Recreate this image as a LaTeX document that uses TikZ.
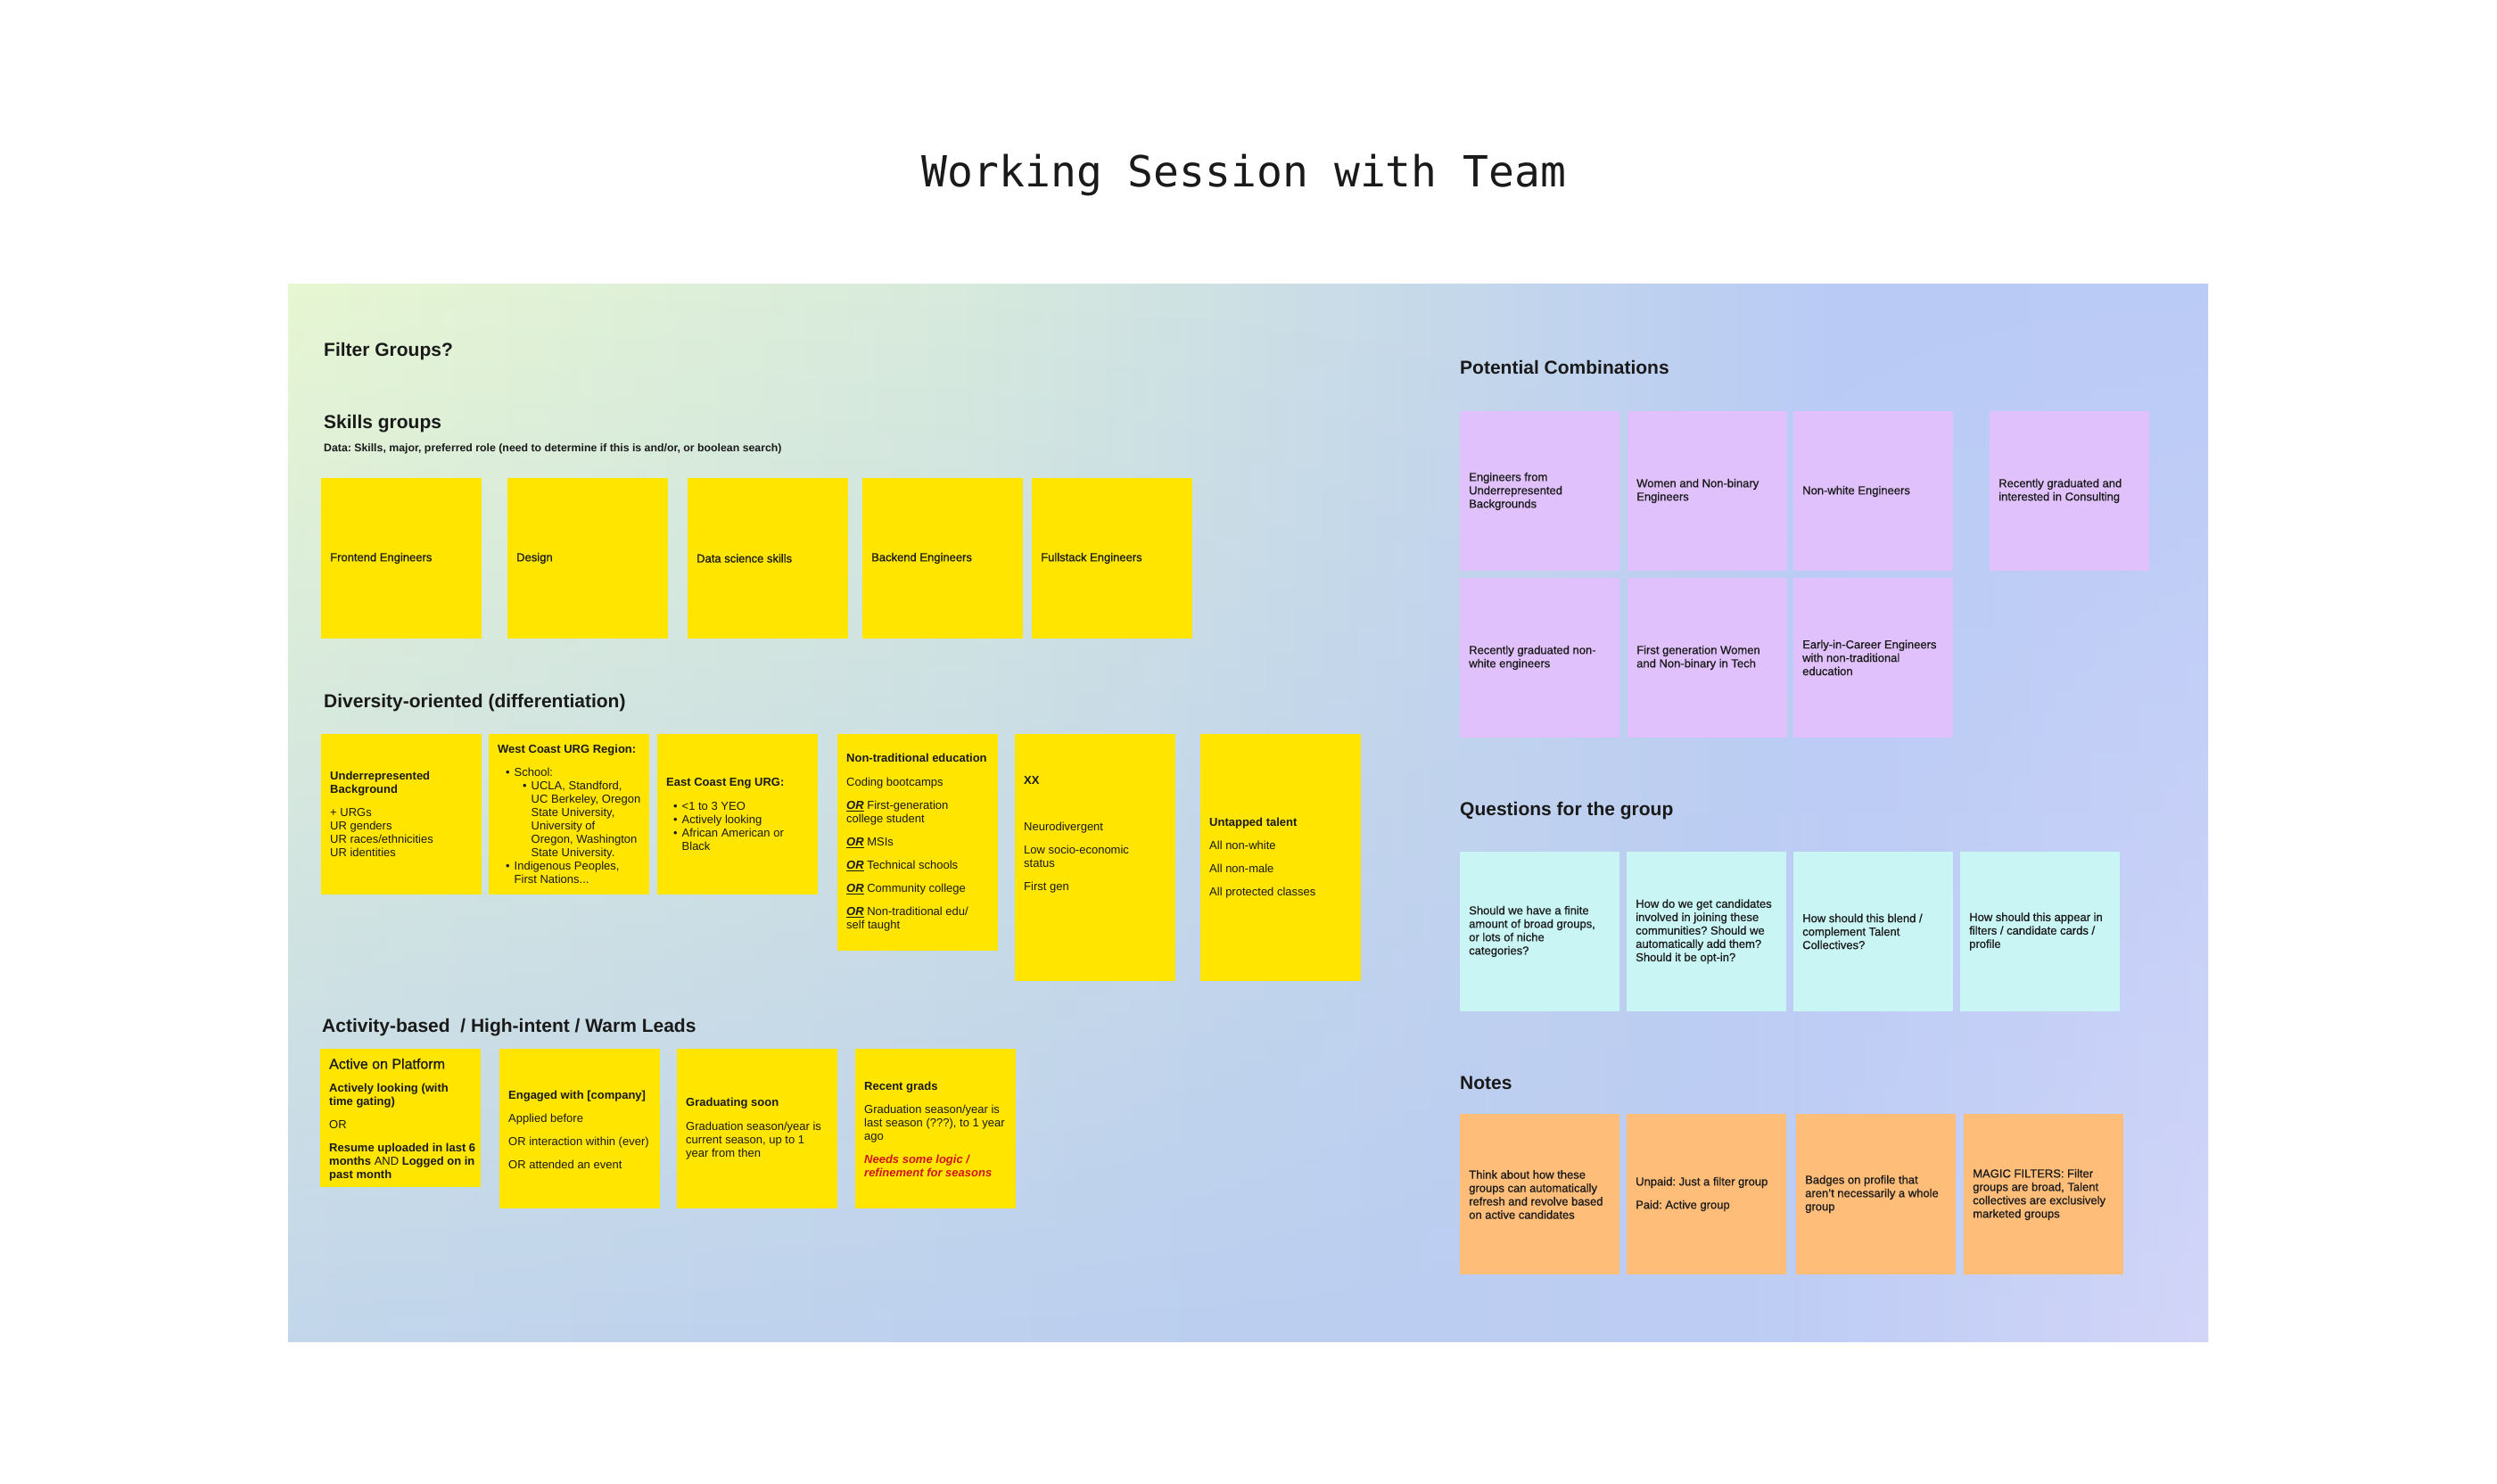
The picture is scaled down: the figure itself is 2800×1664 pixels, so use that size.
\documentclass[tikz,border=0pt]{standalone}
\usepackage{fontspec}
\setmainfont{Liberation Sans}
\newfontfamily\medfont{Liberation Sans}[FakeBold=0.7]
\newfontfamily\titlefont{DejaVu Sans Mono}
\usetikzlibrary{fadings}
\frenchspacing
\definecolor{ink}{HTML}{1A1A1A}
\definecolor{stYel}{HTML}{FFE500}
\definecolor{stPur}{HTML}{E0C1FC}
\definecolor{stCya}{HTML}{C9F5F4}
\definecolor{stOra}{HTML}{FFBD7A}
\definecolor{needred}{HTML}{D0161B}
\definecolor{bgA}{HTML}{E8F8D2}
\definecolor{bgB}{HTML}{D8EBDC}
\definecolor{bgC}{HTML}{C6D9EA}
\definecolor{bgD}{HTML}{B9CBF5}
\definecolor{bgE}{HTML}{BACBF6}
\definecolor{bA}{HTML}{C2D6EC}
\definecolor{bB}{HTML}{BBCEF0}
\definecolor{bC}{HTML}{BCCCF4}
\definecolor{bD}{HTML}{D3D6F9}
\pgfdeclarehorizontalshading{bgtop}{100bp}{color(0bp)=(bgA); color(25bp)=(bgA); color(42.5bp)=(bgB); color(55bp)=(bgC); color(65bp)=(bgD); color(75bp)=(bgE); color(100bp)=(bgE)}
\pgfdeclarehorizontalshading{bgbot}{100bp}{color(0bp)=(bA); color(25bp)=(bA); color(50bp)=(bB); color(62.5bp)=(bC); color(75bp)=(bD); color(100bp)=(bD)}
\tikzfading[name=fadeup, top color=transparent!100, bottom color=transparent!0]
\tikzset{
  note/.style={anchor=north west, inner sep=0pt, minimum width=180pt, draw=none},
  medtxt/.style={font=\medfont\fontsize{13}{15}\selectfont},
  yel/.style={note, fill=stYel},
  yelT/.style={},
  yelm/.style={note, fill=stYel},
  yelmT/.style={medtxt},
  pur/.style={note, fill=stPur, minimum width=179pt},
  purT/.style={medtxt},
  cya/.style={note, fill=stCya, minimum width=179pt},
  cyaT/.style={medtxt},
  ora/.style={note, fill=stOra, minimum width=179pt},
  oraT/.style={medtxt},
  stxt/.style={anchor=west, align=left, inner sep=0pt, text=ink, font=\fontsize{13}{15}\selectfont},
  hd/.style={anchor=base west, inner sep=0pt, text=ink, font=\fontsize{21}{25}\selectfont\bfseries},
}
\newcommand\sticky[7]{%
  \node[#2, minimum height=#5pt] (#1) at (#3,#4) {};
  \node[stxt, #2T] (#1t) at (#3+10,#6) {#7};}
\newcommand\bi[1]{\hspace*{#1}\makebox[9.5pt][l]{•}}
\newcommand\orU{\underline{\textbf{\textit{OR}}}}
\begin{document}
\begin{tikzpicture}[x=1pt,y=-1pt]
\useasboundingbox (0,0) rectangle (2800,1664);
\fill[white] (0,0) rectangle (2800,1664);
% background panel
\begin{scope}
\clip (323,318) rectangle (2476,1504);
\shade[shading=bgtop] (303,298) rectangle (2496,1524);
\shade[shading=bgbot, path fading=fadeup] (303,298) rectangle (2496,1524);
\end{scope}
% title
\node[anchor=base, inner sep=0pt, text=ink, font=\titlefont\fontsize{48}{56}\selectfont] (title) at (1395,210) {Working Session with Team};
% headings
\node[hd] (hfilter) at (363,399) {Filter Groups?};
\node[hd] (hskills) at (363,480) {Skills groups};
\node[anchor=base west, inner sep=0pt, text=ink, font=\fontsize{12.3}{14}\selectfont\bfseries] (hdata) at (363,506) {Data: Skills, major, preferred role (need to determine if this is and/or, or boolean search)};
\node[hd] (hdiv) at (363,793) {Diversity-oriented (differentiation)};
\node[hd] (hact) at (361,1157) {Activity-based~ / High-intent / Warm Leads};
\node[hd] (hpot) at (1637,419) {Potential Combinations};
\node[hd] (hque) at (1637,914) {Questions for the group};
\node[hd] (hnot) at (1637,1221) {Notes};
% skills
\sticky{s1}{yelm}{360}{536}{180}{626}{Frontend Engineers}
\sticky{s2}{yelm}{569}{536}{180}{626}{Design}
\sticky{s3}{yelm}{771}{536}{180}{626}{Data science skills}
\sticky{s4}{yelm}{967}{536}{180}{626}{Backend Engineers}
\sticky{s5}{yelm}{1157}{536}{180}{626}{Fullstack Engineers}
% diversity
\sticky{d1}{yel}{360}{823}{180}{913}{\textbf{Underrepresented}\\\textbf{Background}\\[11pt]+ URGs\\UR genders\\UR races/ethnicities\\UR identities}
\sticky{d2}{yel}{548}{823}{180}{913}{\textbf{West Coast URG Region:}\\[11pt]\bi{9pt}School:\\\bi{28pt}UCLA, Standford,\\\hspace*{37.5pt}UC Berkeley, Oregon\\\hspace*{37.5pt}State University,\\\hspace*{37.5pt}University of\\\hspace*{37.5pt}Oregon, Washington\\\hspace*{37.5pt}State University.\\\bi{9pt}Indigenous Peoples,\\\hspace*{18.5pt}First Nations...}
\sticky{d3}{yel}{737}{823}{180}{913}{\textbf{East Coast Eng URG:}\\[12pt]\bi{8pt}<1 to 3 YEO\\\bi{8pt}Actively looking\\\bi{8pt}African American or\\\hspace*{17.5pt}Black}
\sticky{d4}{yel}{939}{823}{243}{944.5}{\textbf{Non-traditional education}\\[12pt]Coding bootcamps\\[11pt]\orU\ First-generation\\college student\\[11pt]\orU\ MSIs\\[11pt]\orU\ Technical schools\\[11pt]\orU\ Community college\\[11pt]\orU\ Non-traditional edu/\\self taught}
\sticky{d5}{yel}{1138}{823}{277}{936}{\textbf{XX}\\[37pt]Neurodivergent\\[11pt]Low socio-economic\\status\\[11pt]First gen}
\sticky{d6}{yel}{1346}{823}{277}{962}{\textbf{Untapped talent}\\[11pt]All non-white\\[11pt]All non-male\\[11pt]All protected classes}
% activity
\sticky{a1}{yel}{359}{1176}{155}{1255.5}{{\medfont\fontsize{16}{18}\selectfont Active on Platform}\\[11pt]\textbf{Actively looking (with}\\\textbf{time gating)}\\[11pt]OR\\[11pt]\textbf{Resume uploaded in last 6}\\\textbf{months} AND \textbf{Logged on in}\\\textbf{past month}}
\sticky{a2}{yel}{560}{1176}{179}{1266.5}{\textbf{Engaged with [company]}\\[11pt]Applied before\\[11pt]OR interaction within (ever)\\[11pt]OR attended an event}
\sticky{a3}{yel}{759}{1176}{179}{1266}{\textbf{Graduating soon}\\[12pt]Graduation season/year is\\current season, up to 1\\year from then}
\sticky{a4}{yel}{959}{1176}{179}{1266.5}{\textbf{Recent grads}\\[11pt]Graduation season/year is\\last season (???), to 1 year\\ago\\[11pt]\textcolor{needred}{\textbf{\textit{Needs some logic /}}}\\\textcolor{needred}{\textbf{\textit{refinement for seasons}}}}
% potential combinations
\sticky{p1}{pur}{1637}{461}{179}{551}{Engineers from\\Underrepresented\\Backgrounds}
\sticky{p2}{pur}{1825}{461}{179}{550.5}{Women and Non-binary\\Engineers}
\sticky{p3}{pur}{2011}{461}{179}{551}{Non-white Engineers}
\sticky{p4}{pur}{2231}{461}{179}{550.5}{Recently graduated and\\interested in Consulting}
\sticky{p5}{pur}{1637}{648}{179}{737.5}{Recently graduated non-\\white engineers}
\sticky{p6}{pur}{1825}{648}{179}{737.5}{First generation Women\\and Non-binary in Tech}
\sticky{p7}{pur}{2011}{648}{179}{737.5}{Early-in-Career Engineers\\with non-traditional\\education}
% questions
\sticky{q1}{cya}{1637}{955}{179}{1044.5}{Should we have a finite\\amount of broad groups,\\or lots of niche\\categories?}
\sticky{q2}{cya}{1824}{955}{179}{1044.5}{How do we get candidates\\involved in joining these\\communities? Should we\\automatically add them?\\Should it be opt-in?}
\sticky{q3}{cya}{2011}{955}{179}{1044.5}{How should this blend /\\complement Talent\\Collectives?}
\sticky{q4}{cya}{2198}{955}{179}{1044.5}{How should this appear in\\filters / candidate cards /\\profile}
% notes
\sticky{n1}{ora}{1637}{1249}{180}{1339.5}{Think about how these\\groups can automatically\\refresh and revolve based\\on active candidates}
\sticky{n2}{ora}{1824}{1249}{180}{1339}{Unpaid: Just a filter group\\[11pt]Paid: Active group}
\sticky{n3}{ora}{2014}{1249}{180}{1339}{Badges on profile that\\aren’t necessarily a whole\\group}
\sticky{n4}{ora}{2202}{1249}{180}{1339.5}{MAGIC FILTERS: Filter\\groups are broad, Talent\\collectives are exclusively\\marketed groups}
\end{tikzpicture}
\end{document}
